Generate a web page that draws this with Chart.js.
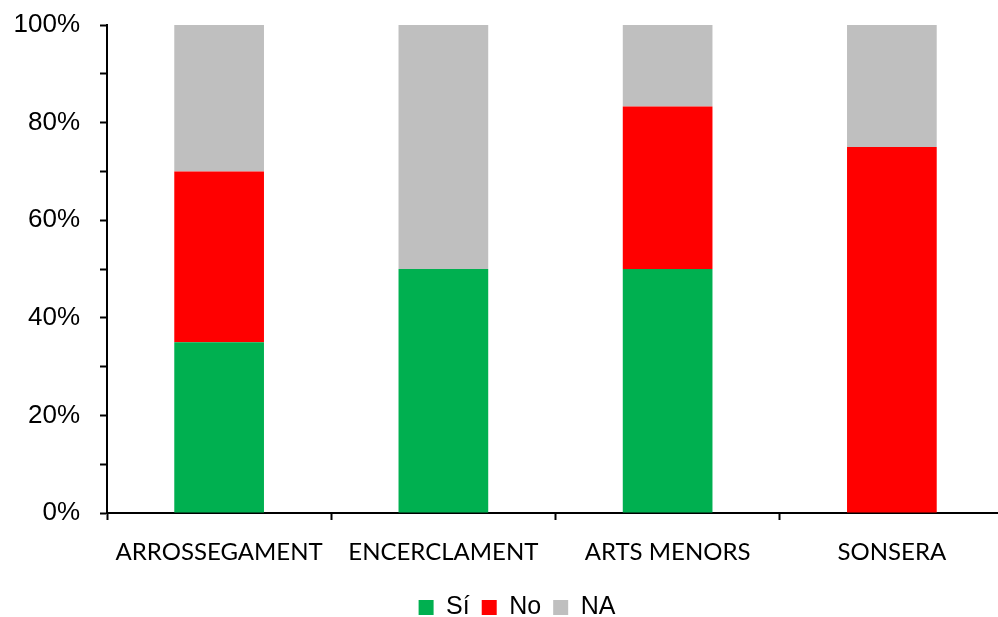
<!DOCTYPE html>
<html>
<head>
<meta charset="utf-8">
<script src="https://cdn.jsdelivr.net/npm/chart.js@4"></script>
<style>
  html, body { margin: 0; padding: 0; background: #fff; overflow: hidden; }
  #wrap { width: 1010px; height: 617px; }
</style>
</head>
<body>
<div id="wrap"><canvas id="myChart" width="1010" height="617"></canvas></div>
<script>
const categories = ['ARROSSEGAMENT', 'ENCERCLAMENT', 'ARTS MENORS', 'SONSERA']
const siValues = [35, 50, 50, 0]
const noValues = [35, 0, 33.3, 75]
const naValues = [30, 50, 16.7, 25]
const yTicks = [0, 20, 40, 60, 80, 100]

const axisFont = "'Liberation Sans', Arial, sans-serif"
const catFont = "Lato, 'Open Sans', sans-serif"

// nudge the legend a little to the right, like in the original
const legendShift = {
    id: 'legendShift',
    afterLayout(chart) {
        if (chart.legend) {
            chart.legend.left += 15
            chart.legend.right += 15
        }
    }
}

var ctx = document.getElementById('myChart').getContext('2d')
var myChart = new Chart(ctx, {
    type: 'bar',
    data: {
        labels: categories,
        datasets: [
            { label: 'Sí', data: siValues, backgroundColor: '#00B050' },
            { label: 'No', data: noValues, backgroundColor: '#FF0000' },
            { label: 'NA', data: naValues, backgroundColor: '#BFBFBF' }
        ]
    },
    plugins: [legendShift],
    options: {
        responsive: false,
        animation: false,
        layout: { padding: { left: 0, right: 6, top: 25, bottom: -13 } },
        datasets: {
            bar: { categoryPercentage: 1, barPercentage: 0.4 }
        },
        plugins: {
            tooltip: { enabled: false },
            legend: {
                position: 'bottom',
                labels: {
                    color: '#000',
                    font: { family: axisFont, size: 25 },
                    boxWidth: 15,
                    boxHeight: 15,
                    padding: 12
                }
            }
        },
        scales: {
            x: {
                stacked: true,
                grid: {
                    offset: true,
                    drawOnChartArea: false,
                    drawTicks: true,
                    tickLength: 7,
                    tickWidth: 2,
                    tickColor: '#000'
                },
                border: { display: true, color: '#000', width: 2 },
                ticks: {
                    color: '#000',
                    font: { family: catFont, size: 24 },
                    padding: 18,
                    maxRotation: 0,
                    autoSkip: false
                },
                afterFit: function(scale) { scale.height = 70 }
            },
            y: {
                stacked: true,
                min: 0,
                max: 100,
                grid: {
                    drawOnChartArea: false,
                    drawTicks: true,
                    tickLength: 7,
                    tickWidth: 2,
                    tickColor: '#000'
                },
                border: { display: true, color: '#000', width: 2 },
                ticks: {
                    stepSize: 10,
                    color: '#000',
                    font: { family: axisFont, size: 26 },
                    padding: 20,
                    callback: function(v) {
                        return yTicks.includes(v) ? v + '%' : ''
                    }
                },
                afterFit: function(scale) {
                    scale.width = 107
                    scale.paddingTop = 0
                    scale.paddingBottom = 0
                }
            }
        }
    }
})
</script>
</body>
</html>
